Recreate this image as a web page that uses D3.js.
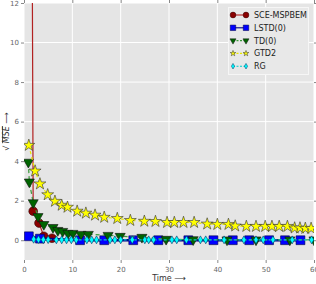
<!DOCTYPE html>
<html>
<head>
<script src="https://d3js.org/d3.v7.min.js"></script>
<style>
  body { margin: 0; background: #fff; }
  * { font-family: "DejaVu Sans", sans-serif; }
  .legend-text { font-size: 8px; fill: #222; }
</style>
</head>
<body>
<script>
// ---- data ----
var xTicks = [0, 10, 20, 30, 40, 50, 60];
var yTicks = [0, 2, 4, 6, 8, 10, 12];

var sceX = [1.0, 1.9, 3.1, 4.1, 5.8];
var sceY = [60, 1.47, 0.87, 0.2, 0.1];

var lstdX = [1.0, 3.3, 11.6, 16.6, 22.6, 27.8, 34.0, 39.2, 43.2, 46.6, 50.7, 54.0, 57.2];
var lstdY = [0.2, 0.08, 0.0, 0.0, 0.0, 0.0, 0.0, 0.0, 0.0, 0.0, 0.0, 0.0, 0.0];

var tdX = [0.9, 1.1, 1.9, 2.9, 4.1, 6.0, 7.0, 8.0, 9.1, 10.1, 11.8, 13.3, 17.4, 19.9, 24.4, 29.4, 35, 42, 48, 55, 60];
var tdY = [3.95, 2.95, 1.9, 1.2, 0.8, 0.65, 0.5, 0.45, 0.35, 0.35, 0.3, 0.3, 0.25, 0.2, 0.15, 0.05, 0.03, 0.02, 0.02, 0.02, 0.02];

var gtdX = [1.0, 2.3, 3.3, 4.9, 6.4, 7.8, 9.0, 11.0, 12.8, 14.7, 16.6, 19.3, 22.0, 24.9, 27.2,
            29.6, 31.1, 33.0, 35.2, 37.9, 40.0, 42.3, 43.7, 46.0, 48.0, 49.9, 51.3, 52.8, 54.5,
            56.0, 57.1, 58.2, 59.4];
var gtdY = [4.8, 3.5, 2.85, 2.3, 1.97, 1.77, 1.67, 1.47, 1.37, 1.27, 1.16, 1.1, 1.0, 0.96, 0.95,
            0.9, 0.9, 0.9, 0.9, 0.82, 0.8, 0.8, 0.72, 0.7, 0.7, 0.7, 0.7, 0.7, 0.7,
            0.62, 0.62, 0.6, 0.6];

var rgX = [2, 3, 4, 5, 6.7, 7.8, 8.8, 9.8, 10.8, 13, 14, 15, 17.8, 18.8, 20, 22.4, 25, 25.8, 26.8,
           30.6, 31.6, 33.6, 36.5, 37.6, 41.4, 45.5, 48, 49.5, 51.5, 55.5, 59.5];
var rgY = [0.05, 0.04, 0.03, 0.03, 0.02, 0.02, 0.02, 0.02, 0.02, 0.02, 0.02, 0.02, 0.02, 0.02, 0.02,
           0.02, 0.02, 0.02, 0.02, 0.02, 0.02, 0.02, 0.02, 0.02, 0.02, 0.02, 0.02, 0.02, 0.02, 0.02, 0.02];

var seriesNames = ["SCE-MSPBEM", "LSTD(0)", "TD(0)", "GTD2", "RG"];

// ---- layout ----
var W = 316, H = 284;
var pL = 24, pR = 314, pT = 3, pB = 260;

var svg = d3.select("body").append("svg")
  .attr("width", W).attr("height", H);

var x = d3.scaleLinear().domain([0, 60]).range([pL, pR]);
var y = d3.scaleLinear().domain([-1, 12]).range([pB, pT]);

svg.append("rect")
  .attr("x", pL).attr("y", pT)
  .attr("width", pR - pL).attr("height", pB - pT)
  .attr("fill", "#e5e5e5");

svg.append("defs").append("clipPath").attr("id", "clip")
  .append("rect")
  .attr("x", pL).attr("y", pT)
  .attr("width", pR - pL).attr("height", pB - pT);

// grid
var grid = svg.append("g");
grid.selectAll(".gx").data(xTicks).enter().append("line")
  .attr("x1", d => x(d)).attr("x2", d => x(d))
  .attr("y1", pT).attr("y2", pB)
  .attr("stroke", "#fff").attr("stroke-width", 1);
grid.selectAll(".gy").data(yTicks).enter().append("line")
  .attr("y1", d => y(d)).attr("y2", d => y(d))
  .attr("x1", pL).attr("x2", pR)
  .attr("stroke", "#fff").attr("stroke-width", 1);

// axes
function styleAxis(g) {
  g.select(".domain").remove();
  g.selectAll(".tick line").attr("stroke", "#888");
  g.selectAll(".tick text").attr("fill", "#666")
    .style("font-size", "7px").style("font-family", "DejaVu Sans, sans-serif");
}
svg.append("g").attr("transform", "translate(0," + pB + ")")
  .call(d3.axisBottom(x).tickValues(xTicks).tickSize(3).tickPadding(4))
  .call(styleAxis);
svg.append("g").attr("transform", "translate(" + pL + ",0)")
  .call(d3.axisLeft(y).tickValues(yTicks).tickSize(3).tickPadding(2))
  .call(styleAxis);
svg.append("g").attr("transform", "translate(" + pR + ",0)")
  .call(d3.axisRight(y).tickValues(yTicks).tickSize(3).tickFormat(""))
  .call(styleAxis);
svg.append("g").attr("transform", "translate(0," + pT + ")")
  .call(d3.axisTop(x).tickValues(xTicks).tickSize(3).tickFormat(""))
  .call(styleAxis);

// series
var series = [
  {xs: sceX, ys: sceY, line: "#b22222", dash: null, lw: 1.2, fill: "#8b0000", edge: "#300",
   sym: d3.symbolCircle, size: 60, lsize: 26, rot: 0},
  {xs: lstdX, ys: lstdY, line: "#00008b", dash: null, lw: 2.6, fill: "#0000ff", edge: "#000044",
   sym: d3.symbolSquare, size: 78, lsize: 30, rot: 0},
  {xs: tdX, ys: tdY, line: "#3a9a3a", dash: "4,3", lw: 1.2, fill: "#006400", edge: "#111",
   sym: d3.symbolTriangle, size: 44, lsize: 16, rot: 180},
  {xs: gtdX, ys: gtdY, line: "#e8e800", dash: "3,3", lw: 1.2, fill: "#ffff00", edge: "#333",
   sym: d3.symbolStar, size: 44, lsize: 10, rot: 0},
  {xs: rgX, ys: rgY, line: "#00cccc", dash: "3,2", lw: 1.2, fill: "#00ffff", edge: "#036",
   sym: d3.symbolDiamond, size: 18, lsize: 9, rot: 0}
];

var plot = svg.append("g").attr("clip-path", "url(#clip)");
var lineGen = d3.line().x(d => x(d[0])).y(d => y(d[1]));

series.forEach(function(s) {
  var pts = s.xs.map((v, i) => [v, s.ys[i]]);
  plot.append("path").datum(pts)
    .attr("d", lineGen)
    .attr("fill", "none")
    .attr("stroke", s.line)
    .attr("stroke-width", s.lw)
    .attr("stroke-dasharray", s.dash);
  plot.selectAll(null).data(pts).enter().append("path")
    .attr("d", d3.symbol().type(s.sym).size(s.size))
    .attr("transform", d => "translate(" + x(d[0]) + "," + y(d[1]) + ") rotate(" + s.rot + ")")
    .attr("fill", s.fill)
    .attr("stroke", s.edge)
    .attr("stroke-width", 0.6);
});

// legend
var lg = svg.append("g");
lg.append("rect")
  .attr("x", 228.5).attr("y", 7.5).attr("width", 80).attr("height", 67)
  .attr("fill", "#e8e8e8").attr("stroke", "#f6f6f6").attr("stroke-width", 1);
seriesNames.forEach(function(name, i) {
  var s = series[i];
  var ly = 15 + i * 12.8;
  lg.append("line")
    .attr("x1", 233).attr("x2", 246).attr("y1", ly).attr("y2", ly)
    .attr("stroke", s.line).attr("stroke-width", 1.1)
    .attr("stroke-dasharray", s.dash ? "2,1.5" : null);
  [233, 246].forEach(function(mx) {
    lg.append("path")
      .attr("d", d3.symbol().type(s.sym).size(s.lsize))
      .attr("transform", "translate(" + mx + "," + ly + ") rotate(" + s.rot + ")")
      .attr("fill", s.fill).attr("stroke", s.edge).attr("stroke-width", 0.5);
  });
  lg.append("text").attr("class", "legend-text")
    .attr("x", 254).attr("y", ly + 3)
    .text(name);
});

// axis labels
svg.append("text")
  .attr("x", (pL + pR) / 2).attr("y", 281)
  .attr("text-anchor", "middle")
  .style("font-size", "8px").attr("fill", "#333")
  .text("Time \u27F6");

var yl = svg.append("text")
  .attr("transform", "translate(9," + ((pT + pB) / 2) + ") rotate(-90)")
  .attr("text-anchor", "middle")
  .style("font-size", "8px").attr("fill", "#333");
yl.append("tspan").text("\u221A ");
yl.append("tspan").style("font-style", "italic").style("text-decoration", "overline").text("MSE");
yl.append("tspan").text(" \u27F6");
</script>
</body>
</html>
